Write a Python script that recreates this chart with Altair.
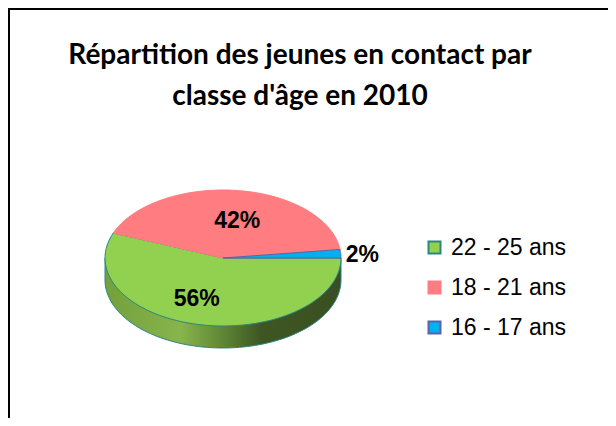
import altair as alt
import pandas as pd

# ---- data ----
categories = ["22 - 25 ans", "18 - 21 ans", "16 - 17 ans"]
values = [56, 42, 2]
fill_colors = ["#92d050", "#ff7c80", "#00b0f0"]
edge_colors = ["#2b8585", "#ff7c80", "#5b63a6"]
title_lines = ["Répartition des jeunes en contact par", "classe d'âge en 2010"]

# ---- geometry / layout ----
W, H = 600, 410
CX, CY, A, B, D = 215, 250, 118, 68, 22
N = 90

df = pd.DataFrame({"cat": categories, "value": values, "idx": list(range(len(categories)))})

xs = alt.Scale(domain=[0, W], nice=False, zero=False)
ys = alt.Scale(domain=[0, H], nice=False, zero=False, reverse=True)

legend_cfg = dict(
    title=None, orient="none", legendX=415, legendY=228, symbolType="square",
    symbolSize=144, symbolStrokeWidth=2, labelFont="Liberation Sans", labelFontSize=23,
    labelColor="black", rowPadding=16, labelOffset=5, padding=0,
)

color = alt.Color("cat:N", scale=alt.Scale(domain=categories, range=fill_colors),
                  legend=alt.Legend(**legend_cfg))
stroke = alt.Stroke("cat:N", scale=alt.Scale(domain=categories, range=edge_colors),
                    legend=alt.Legend(**legend_cfg))

base = alt.Chart(df).transform_window(
    cum="sum(value)", sort=[alt.SortField("idx")], frame=[None, 0]
)

# pie top face (ellipse slices)
slices = base.transform_calculate(
    a0="(datum.cum - datum.value) / 100 * 2 * PI",
    a1="datum.cum / 100 * 2 * PI",
    step=f"sequence(0, {N + 2})",
).transform_flatten(["step"]).transform_calculate(
    rim=f"(datum.step > 0 && datum.step < {N + 1}) ? 1 : 0",
    ang=f"datum.a0 + (datum.a1 - datum.a0) * max(0, min(datum.step - 1, {N - 1})) / {N - 1}",
).transform_calculate(
    px=f"{CX} + datum.rim * {A} * cos(datum.ang)",
    py=f"{CY} + datum.rim * {B} * sin(datum.ang)",
).mark_line(filled=True, strokeWidth=1).encode(
    x=alt.X("px:Q", scale=xs, axis=None),
    y=alt.Y("py:Q", scale=ys, axis=None),
    color=color,
    stroke=stroke,
    order=alt.Order("step:Q"),
)

# pie side (front half)
side = alt.Chart(alt.sequence(0, N + 1, as_="i")).transform_calculate(
    t=f"PI * datum.i / {N}",
).transform_calculate(
    sx=f"{CX} + {A} * cos(datum.t)",
    sy=f"{CY} + {B} * sin(datum.t) + {D}",
    sy2=f"{CY}",
).mark_area(
    fill=alt.Gradient(
        gradient="linear", x1=0, x2=1, y1=0, y2=0,
        stops=[
            alt.GradientStop(offset=0.0, color="#72a03c"),
            alt.GradientStop(offset=0.32, color="#88b44c"),
            alt.GradientStop(offset=0.5, color="#5f8636"),
            alt.GradientStop(offset=0.66, color="#3e5624"),
            alt.GradientStop(offset=1.0, color="#3a4f20"),
        ],
    ),
    stroke="#2b8585", strokeWidth=1,
).encode(
    x=alt.X("sx:Q", scale=xs, axis=None),
    y=alt.Y("sy:Q", scale=ys, axis=None),
    y2="sy2:Q",
)

# percentage labels
labels = base.transform_calculate(
    mid="(datum.cum - datum.value / 2) / 100 * 2 * PI",
    fx="datum.value < 5 ? 1.2 : 1.1",
    fy="datum.value < 5 ? 1.2 : 0.58",
    txt="datum.value + '%'",
).transform_calculate(
    lx=f"{CX} + datum.fx * {A} * cos(datum.mid)",
    ly=f"{CY} + datum.fy * {B} * sin(datum.mid)",
).mark_text(
    font="Liberation Sans", fontWeight="bold", fontSize=23, color="black",
    align="center", baseline="middle", dx=-2, dy=2,
).encode(
    x=alt.X("lx:Q", scale=xs, axis=None),
    y=alt.Y("ly:Q", scale=ys, axis=None),
    text="txt:N",
)

# chart frame (left and top edges; right/bottom lie outside the window)
one = alt.Data(values=[{}])
frame_left = alt.Chart(one).mark_rule(color="black", strokeWidth=2).encode(
    x=alt.value(1), y=alt.value(0), y2=alt.value(H)
)
frame_top = alt.Chart(one).mark_rule(color="black", strokeWidth=2).encode(
    x=alt.value(0), x2=alt.value(W), y=alt.value(1)
)

chart = alt.layer(frame_left, frame_top, side, slices, labels).properties(
    width=W, height=H, padding=0, autosize="none",
    title=alt.TitleParams(
        text=title_lines, anchor="middle", frame="group", orient="top",
        offset=-104, dx=-8, baseline="top", font="Lato", fontSize=28,
        fontWeight="bold", lineHeight=41, color="black",
    ),
).configure_view(stroke=None)

chart.save("out.html", embed_options={"renderer": "svg", "actions": False})
